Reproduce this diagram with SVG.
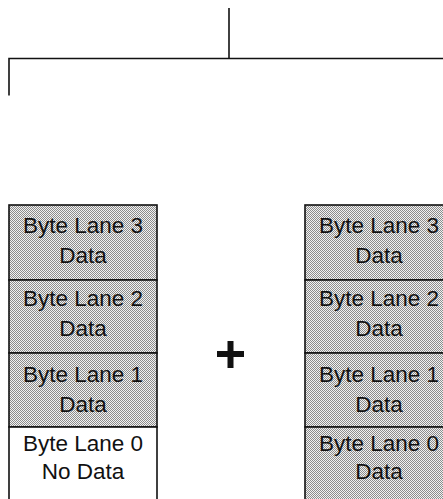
<svg xmlns="http://www.w3.org/2000/svg" width="443" height="499" viewBox="0 0 443 499">
  <defs>
    <pattern id="dots" width="2" height="2" patternUnits="userSpaceOnUse">
      <rect width="2" height="2" fill="#f2f2f2"/>
      <rect width="1" height="1" fill="#8c8c8c"/>
      <rect x="1" y="1" width="1" height="1" fill="#8c8c8c"/>
    </pattern>
  </defs>
  <style>
    .cell { stroke: #111; stroke-width: 1.6; }
    .shade { fill: url(#dots); }
    .clear { fill: #ffffff; }
    .lbl { font-family: "Liberation Sans", Arial, sans-serif; font-size: 22.5px; fill: #111; text-anchor: middle; }
    .wire { stroke: #111; stroke-width: 1.6; fill: none; }
  </style>
  <rect width="443" height="499" fill="#ffffff"/>

  <g id="connectors">
    <line class="wire" x1="229" y1="8" x2="229" y2="58.5"/>
    <polyline class="wire" points="9,95.5 9,58.5 443,58.5"/>
  </g>

  <g id="left-stack">
    <g id="left-lane3">
      <rect class="cell shade" x="9" y="205" width="148" height="75"/>
      <text class="lbl" x="83" y="233">Byte Lane 3</text>
      <text class="lbl" x="83" y="263">Data</text>
    </g>
    <g id="left-lane2">
      <rect class="cell shade" x="9" y="280" width="148" height="73"/>
      <text class="lbl" x="83" y="306">Byte Lane 2</text>
      <text class="lbl" x="83" y="336">Data</text>
    </g>
    <g id="left-lane1">
      <rect class="cell shade" x="9" y="353" width="148" height="74"/>
      <text class="lbl" x="83" y="382">Byte Lane 1</text>
      <text class="lbl" x="83" y="412">Data</text>
    </g>
    <g id="left-lane0">
      <rect class="cell clear" x="9" y="427" width="148" height="80"/>
      <text class="lbl" x="83" y="451">Byte Lane 0</text>
      <text class="lbl" x="83" y="479">No Data</text>
    </g>
  </g>

  <g id="plus">
    <rect x="227.5" y="341" width="6" height="27" fill="#111"/>
    <rect x="217" y="351" width="27" height="6" fill="#111"/>
  </g>

  <g id="right-stack">
    <g id="right-lane3">
      <rect class="cell shade" x="305" y="205" width="148" height="75"/>
      <text class="lbl" x="379" y="233">Byte Lane 3</text>
      <text class="lbl" x="379" y="263">Data</text>
    </g>
    <g id="right-lane2">
      <rect class="cell shade" x="305" y="280" width="148" height="73"/>
      <text class="lbl" x="379" y="306">Byte Lane 2</text>
      <text class="lbl" x="379" y="336">Data</text>
    </g>
    <g id="right-lane1">
      <rect class="cell shade" x="305" y="353" width="148" height="74"/>
      <text class="lbl" x="379" y="382">Byte Lane 1</text>
      <text class="lbl" x="379" y="412">Data</text>
    </g>
    <g id="right-lane0">
      <rect class="cell shade" x="305" y="427" width="148" height="80"/>
      <text class="lbl" x="379" y="451">Byte Lane 0</text>
      <text class="lbl" x="379" y="479">Data</text>
    </g>
  </g>
</svg>
